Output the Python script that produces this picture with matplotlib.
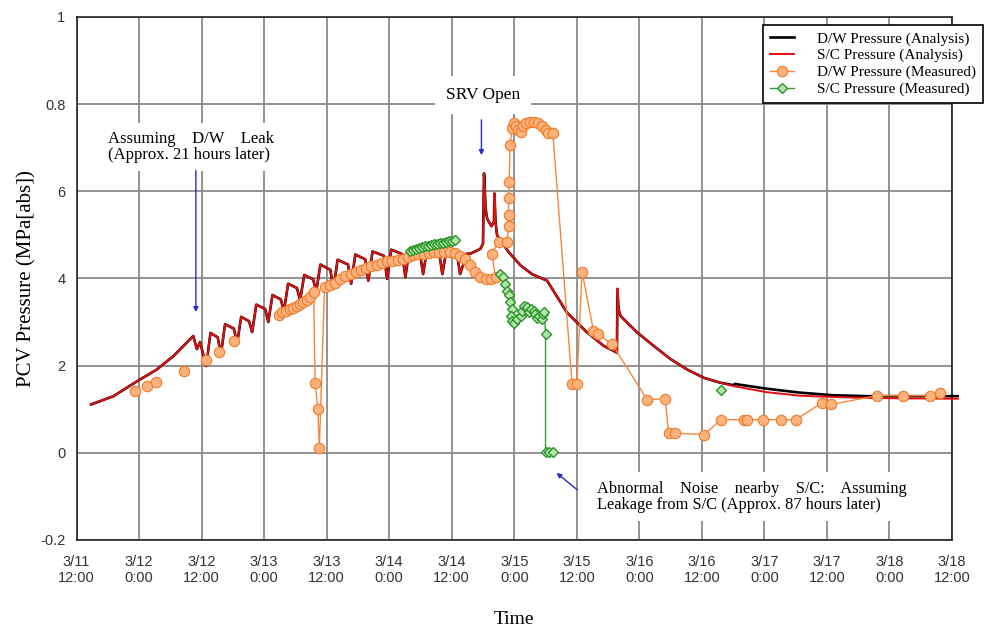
import numpy as np
import matplotlib.pyplot as plt

nan = np.nan

# time axis: hours after 3/11 12:00
tick_hours = [0, 12, 24, 36, 48, 60, 72, 84, 96, 108, 120, 132, 144, 156, 168]
tick_labels = ["3/11\n12:00", "3/12\n0:00", "3/12\n12:00", "3/13\n0:00", "3/13\n12:00",
               "3/14\n0:00", "3/14\n12:00", "3/15\n0:00", "3/15\n12:00", "3/16\n0:00",
               "3/16\n12:00", "3/17\n0:00", "3/17\n12:00", "3/18\n0:00", "3/18\n12:00"]
y_ticks = [-0.2, 0, 0.2, 0.4, 0.6, 0.8, 1.0]
y_tick_labels = ["-0.2", "0", "2", "4", "6", "0.8", "1"]

# S/C pressure (analysis)
sc_h = [2.8, 7.1, 11.6, 15.4, 18.6, 20.5, 22.4, 23.1, 23.7, 24.9,
        25.7, 27.1, 27.7, 28.5, 30.2, 30.8, 31.6, 33.1, 33.7, 34.5, 36.2, 36.8,
        37.6, 39.2, 39.8, 40.6, 42.3, 42.9, 43.7, 45.4, 46.0, 46.8, 48.7, 49.3,
        50.1, 52.1, 52.7, 53.5, 55.4, 56.0, 56.8, 59.0, 59.6, 60.4, 62.5, 63.1,
        63.9, 65.9, 66.5, 67.3, 69.6, 70.2, 71.0, 73.0, 73.6,
        74.9, 75.6, 77.5, 78.0, 78.2, 78.5, 78.8, 79.6, 80.1, 80.2, 80.4, 80.7,
        82.9, 85.2, 87.4, 90.3, 94.1, 98.0, 101.2, 103.7, 103.8, 104.0, 104.4,
        107.6, 110.8, 114.0, 117.2, 120.4, 123.5,
        126.1, 132.5, 138.9, 145.3, 151.7, 158.1, 169.1]
sc_p = [0.111, 0.130, 0.164, 0.191, 0.222, 0.245, 0.268, 0.238, 0.254, 0.199,
        0.275, 0.265, 0.225, 0.295, 0.285, 0.250, 0.312, 0.302, 0.277, 0.340, 0.330, 0.300,
        0.362, 0.352, 0.325, 0.388, 0.378, 0.350, 0.408, 0.398, 0.370, 0.432, 0.420, 0.376,
        0.443, 0.432, 0.388, 0.455, 0.444, 0.395, 0.462, 0.452, 0.399, 0.466, 0.456, 0.403,
        0.468, 0.458, 0.410, 0.468, 0.458, 0.410, 0.466, 0.458, 0.410,
        0.457, 0.457, 0.468, 0.480, 0.641, 0.560, 0.537, 0.520, 0.530, 0.595, 0.530, 0.499,
        0.461, 0.430, 0.410, 0.395, 0.322, 0.276, 0.245, 0.230, 0.376, 0.330, 0.314,
        0.276, 0.245, 0.215, 0.191, 0.172, 0.161,
        0.153, 0.139, 0.131, 0.128, 0.126, 0.125, 0.124]

# D/W pressure (analysis): same as S/C until 3/16 ~15:30, then slightly higher
n_shared = sc_h.index(123.5) + 1
dw_tail_h = [126.1, 126.3, 132.5, 138.9, 145.3, 151.7, 158.1, 169.1]
dw_tail_p = [0.155, 0.158, 0.147, 0.138, 0.132, 0.130, 0.130, 0.130]
dw_h = sc_h[:n_shared] + dw_tail_h
dw_p = sc_p[:n_shared] + dw_tail_p

# D/W pressure (measured)
dw_meas_h = [11.2, nan, 13.5, nan, 15.3, nan, 20.7, nan, 24.9, nan, 27.4, nan, 30.2, nan,
             38.9, 39.5, 40.2, 41.0, 41.6, 42.3, 42.9, 43.5, 44.2, 44.8, 45.5,
             45.8, 46.3, 46.6,
             47.6, 48.6, 49.6, 50.6, 51.6, 52.6, 53.6, 54.6, 55.6, 56.6, 57.6, 58.6,
             59.6, 60.6, 61.6, 62.6, 63.6, 64.6, 65.6, 66.6, 67.6, 68.6, 69.6, 70.6,
             71.6, 72.6, 73.6, 74.6, 75.5, 76.5, 77.5, 78.5, 79.5, 80.4,
             79.7, 81.0, 82.6, 82.9, 82.9, 82.9, 83.0, 83.2, 83.6, 83.9, 84.4, 84.8,
             85.2, 85.7, 86.3, 87.1, 87.8, 88.6, 89.4, 90.0, 90.5, 91.4,
             95.1, 96.0, 97.0, 99.2, 100.0, 102.8, 109.5, 113.0, 113.6, 114.9,
             120.5, 123.6, 128.0, 128.7, 131.8, 135.1, 138.0, 143.1, 144.7,
             153.6, 158.6, 163.7, 165.7]
dw_meas_p = [0.141, nan, 0.153, nan, 0.162, nan, 0.188, nan, 0.212, nan, 0.231, nan, 0.257, nan,
             0.316, 0.322, 0.326, 0.330, 0.333, 0.337, 0.341, 0.345, 0.350, 0.357, 0.368,
             0.161, 0.100, 0.011,
             0.381, 0.385, 0.390, 0.398, 0.405, 0.410, 0.415, 0.420, 0.424, 0.428, 0.432, 0.436,
             0.439, 0.441, 0.443, 0.445, 0.450, 0.453, 0.456, 0.457, 0.459, 0.460, 0.461, 0.461,
             0.460, 0.458, 0.452, 0.445, 0.430, 0.414, 0.403, 0.399, 0.399, 0.403,
             0.457, 0.484, 0.484, 0.520, 0.545, 0.584, 0.622, 0.707, 0.745, 0.757, 0.750, 0.740,
             0.737, 0.750, 0.757, 0.760, 0.760, 0.757, 0.750, 0.740, 0.734, 0.734,
             0.157, 0.157, 0.416, 0.280, 0.272, 0.249, 0.122, 0.124, 0.045, 0.045,
             0.042, 0.076, 0.076, 0.076, 0.076, 0.076, 0.076, 0.115, 0.111,
             0.131, 0.131, 0.131, 0.138]

# S/C pressure (measured)
sc_meas_h = [64.0, 64.6, 65.2, 65.8, 66.3, 66.9, 67.5, 68.1, 68.6, 69.2, 69.8, 70.4,
             70.9, 71.5, 72.1, 72.7, nan,
             81.3, 81.9, 82.3, 82.6, 82.9, 83.2, 83.6, 83.3, 83.6, 84.0, 84.5, 85.2,
             85.5, 85.9, 86.4, 86.9, 87.3, 87.7, 88.0, 88.4, 88.7, 89.3, 89.6, 89.8,
             90.0, 90.0, 90.6, 91.4, nan, 123.6]
sc_meas_p = [0.462, 0.466, 0.468, 0.470, 0.472, 0.474, 0.475, 0.477, 0.478, 0.479, 0.481, 0.482,
             0.484, 0.485, 0.486, 0.488, nan,
             0.410, 0.403, 0.388, 0.372, 0.361, 0.345, 0.330, 0.314, 0.303, 0.298, 0.307, 0.314,
             0.325, 0.337, 0.334, 0.322, 0.330, 0.326, 0.318, 0.310, 0.314, 0.307, 0.318, 0.322,
             0.272, 0.001, 0.001, 0.001, nan, 0.145]

serif = "Liberation Serif"
sans = "Liberation Sans"

fig = plt.figure(figsize=(9.95, 6.26), dpi=100)
ax = fig.add_axes([0.0769, 0.1374, 0.8799, 0.8355])

ax.plot(dw_h, dw_p, color="black", lw=1.9, label="D/W Pressure (Analysis)", zorder=3, clip_on=False)
ax.plot(sc_h, sc_p, color="#e01010", lw=1.4, label="S/C Pressure (Analysis)", zorder=4, clip_on=False)
ax.plot(dw_meas_h, dw_meas_p, color="#f5873a", lw=1.0, marker="o", ms=7.5,
        mfc="#fbb27c", mec="#f07a28", mew=0.8, label="D/W Pressure (Measured)", zorder=5)
ax.plot(sc_meas_h, sc_meas_p, color="#3a9a3a", lw=1.0, marker="D", ms=5.5,
        mfc="#b4e4a8", mec="#2a962a", mew=1.0, label="S/C Pressure (Measured)", zorder=6)

ax.set_xlim(0, 168)
ax.set_ylim(-0.2, 1.0)
ax.set_xticks(tick_hours)
ax.set_xticklabels(tick_labels, fontfamily=sans, fontsize=10.5, color="#333333")
ax.set_yticks(y_ticks)
ax.set_yticklabels(y_tick_labels, fontfamily=sans, fontsize=10.5, color="#333333")
ax.tick_params(axis="x", length=0, pad=11)
ax.tick_params(axis="y", length=0, pad=8)
ax.grid(True, color="#8a8a8a", lw=1.3)
ax.set_axisbelow(True)
for s in ax.spines.values():
    s.set_color("#222222")
    s.set_linewidth(1.2)

ax.set_ylabel("PCV Pressure (MPa[abs])", fontfamily=serif, fontsize=15)
ax.yaxis.set_label_coords(-0.046, 0.5)
ax.set_xlabel("Time", fontfamily=serif, fontsize=14)
ax.xaxis.set_label_coords(0.5, -0.135)

box = dict(facecolor="white", edgecolor="none", pad=6)
arrow = dict(arrowstyle="-|>", color="#2a2ad0", lw=1.0, mutation_scale=7, shrinkA=0, shrinkB=0)

ax.text(6.05, 0.702, "Assuming    D/W    Leak\n(Approx. 21 hours later)",
        fontfamily=serif, fontsize=12, linespacing=1.0, ha="left", va="center", bbox=box, zorder=7)
ax.annotate("", xy=(22.9, 0.323), xytext=(22.9, 0.648), arrowprops=arrow, zorder=8)

ax.text(78.0, 0.821, "SRV Open", fontfamily=serif, fontsize=12.5, ha="center", va="center",
        bbox=dict(facecolor="white", edgecolor="none", pad=8), zorder=7)
ax.annotate("", xy=(77.7, 0.683), xytext=(77.7, 0.764), arrowprops=arrow, zorder=8)

ax.text(99.9, -0.101, "Abnormal    Noise    nearby    S/C:    Assuming\nLeakage from S/C (Approx. 87 hours later)",
        fontfamily=serif, fontsize=11.8, linespacing=1.0, ha="left", va="center", bbox=box, zorder=7)
ax.annotate("", xy=(92.1, -0.046), xytext=(96.1, -0.085), arrowprops=arrow, zorder=8)

leg = ax.legend(loc="upper left", bbox_to_anchor=(0.784, 0.985), borderaxespad=0,
                prop={"family": serif, "size": 11}, frameon=True, fancybox=False,
                framealpha=1, edgecolor="black", handlelength=1.6, handletextpad=1.5,
                labelspacing=0.2, borderpad=0.45)
leg.get_frame().set_linewidth(1.2)
leg.set_zorder(10)

fig.savefig("out.png", dpi=100)
